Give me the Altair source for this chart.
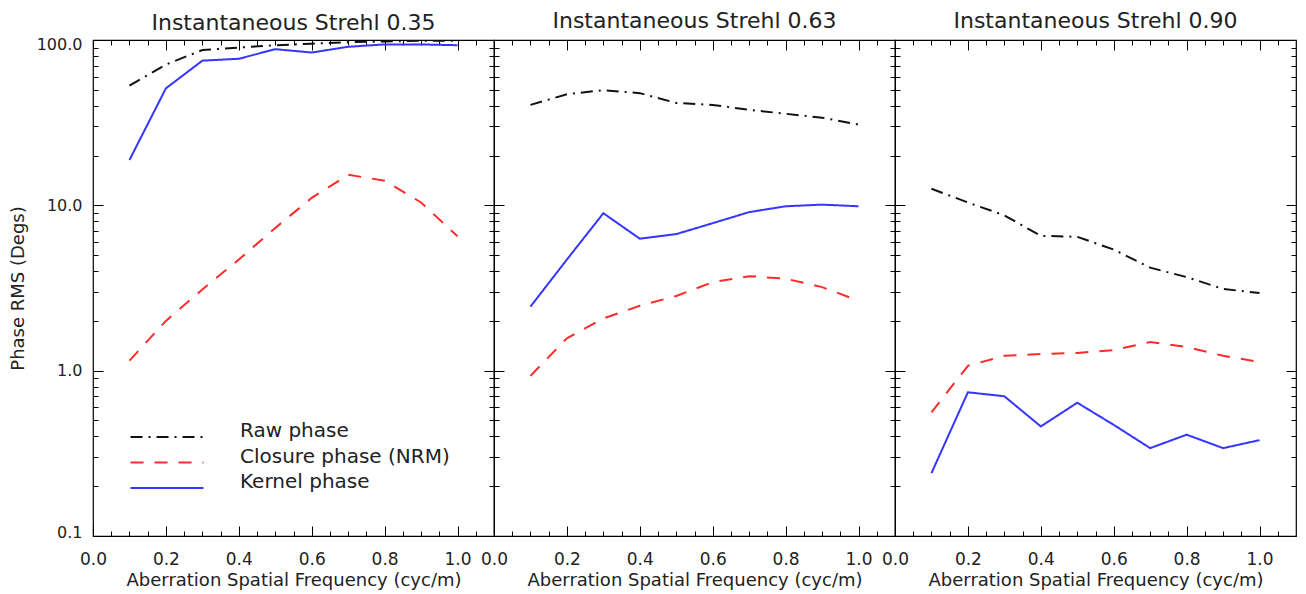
import altair as alt
import pandas as pd

FONT = "DejaVu Sans"
TEXT = "#222222"

# ---------------- data ----------------
freq = [0.1, 0.2, 0.3, 0.4, 0.5, 0.6, 0.7, 0.8, 0.9, 1.0]
series_names = ["Raw phase", "Closure phase (NRM)", "Kernel phase"]
series_colors = ["#111111", "#ff2b2b", "#3535ff"]
series_dashes = [[12, 6, 2, 6], [13, 11], [1, 0]]
panel_titles = ["Instantaneous Strehl 0.35", "Instantaneous Strehl 0.63", "Instantaneous Strehl 0.90"]

raw_035 = [53, 71, 87, 90, 93, 95, 97, 98, 99, 99]
closure_035 = [1.15, 2.0, 3.1, 4.7, 7.3, 11.1, 15.3, 14.1, 10.4, 6.5]
kernel_035 = [18.8, 51, 75, 77, 88, 84, 91, 94, 94, 93]

raw_063 = [40.5, 47, 49.7, 47.7, 41.6, 40.5, 37.8, 35.8, 33.9, 30.8]
closure_063 = [0.93, 1.57, 2.07, 2.47, 2.83, 3.43, 3.73, 3.6, 3.2, 2.65]
kernel_063 = [2.44, 4.7, 8.96, 6.28, 6.7, 7.8, 9.1, 9.87, 10.1, 9.87]

raw_090 = [12.6, 10.4, 8.7, 6.54, 6.45, 5.4, 4.2, 3.68, 3.12, 2.95]
closure_090 = [0.56, 1.07, 1.23, 1.26, 1.28, 1.33, 1.49, 1.39, 1.23, 1.13]
kernel_090 = [0.24, 0.74, 0.70, 0.46, 0.64, 0.47, 0.34, 0.41, 0.34, 0.38]

x_major = [0.0, 0.2, 0.4, 0.6, 0.8, 1.0]
x_minor = [0.05, 0.1, 0.15, 0.25, 0.3, 0.35, 0.45, 0.5, 0.55, 0.65, 0.7, 0.75,
           0.85, 0.9, 0.95, 1.05]
y_major = [0.1, 1.0, 10.0, 100.0]
y_minor = [0.2, 0.3, 0.4, 0.5, 0.6, 0.7, 0.8, 0.9,
           2.0, 3.0, 4.0, 5.0, 6.0, 7.0, 8.0, 9.0,
           20.0, 30.0, 40.0, 50.0, 60.0, 70.0, 80.0, 90.0]

W, H = 401, 496


def make_df(raw, closure, kernel):
    rows = []
    for name, vals in zip(series_names, [raw, closure, kernel]):
        for f, v in zip(freq, vals):
            rows.append({"freq": f, "value": v, "series": name})
    return pd.DataFrame(rows)


panel_data = [
    make_df(raw_035, closure_035, kernel_035),
    make_df(raw_063, closure_063, kernel_063),
    make_df(raw_090, closure_090, kernel_090),
]


def xs():
    return alt.Scale(domain=[0, 1.1], nice=False, zero=False)


def ys():
    return alt.Scale(type="log", domain=[0.1, 100], nice=False)


def tick_axis(orient, offset, values, size):
    return alt.Axis(orient=orient, offset=offset, values=values, tickSize=size,
                    tickColor="black", tickWidth=1, ticks=True, labels=False,
                    domain=False, grid=False, title=None, minExtent=0, maxExtent=0)


def panel(idx, df):
    first = idx == 0
    x_axis = alt.Axis(orient="bottom", values=x_major, format=".1f", ticks=False,
                      domain=False, grid=False, labelFlush=False, labelPadding=15,
                      labelFont=FONT, labelFontSize=17, labelColor=TEXT,
                      title="Aberration Spatial Frequency (cyc/m)", titleFont=FONT,
                      titleFontSize=18, titleFontWeight="normal", titleColor=TEXT,
                      titlePadding=4)
    if first:
        y_axis = alt.Axis(orient="left", values=y_major, format=".1f", ticks=False,
                          domain=False, grid=False, labelPadding=11, labelFont=FONT,
                          labelFontSize=16, labelColor=TEXT, labelFlush=True,
                          labelFlushOffset=4, title="Phase RMS (Degs)",
                          titleFont=FONT, titleFontSize=18, titleFontWeight="normal",
                          titleColor=TEXT, titlePadding=9, minExtent=55)
        legend = alt.Legend(orient="none", legendX=64, legendY=387, title=None,
                            symbolType="M-5,0H5", symbolSize=213, symbolStrokeWidth=2,
                            labelFont=FONT, labelFontSize=20, labelColor=TEXT,
                            labelOffset=63, labelBaseline="alphabetic", rowPadding=5.5,
                            labelLimit=500, padding=0)
        title_offset = 1.5
    else:
        y_axis = None
        legend = None
        title_offset = 6.5

    lines = alt.Chart(df).mark_line(strokeWidth=2, clip=True).encode(
        x=alt.X("freq:Q", scale=xs(), axis=x_axis),
        y=alt.Y("value:Q", scale=ys(), axis=y_axis),
        color=alt.Color("series:N", scale=alt.Scale(domain=series_names, range=series_colors),
                        legend=legend),
        strokeDash=alt.StrokeDash("series:N",
                                  scale=alt.Scale(domain=series_names, range=series_dashes),
                                  legend=legend),
    )
    layers = [lines]
    for orient, values, size in [("top", x_major, 10), ("top", x_minor, 5),
                                 ("bottom", x_major, 10), ("bottom", x_minor, 5)]:
        layers.append(alt.Chart(df).mark_point(opacity=0, clip=True).encode(
            x=alt.X("freq:Q", scale=xs(), axis=tick_axis(orient, -H, values, size)),
            y=alt.Y("value:Q", scale=ys(), axis=None)))
    for orient, values, size in [("right", y_major, 10), ("right", y_minor, 5),
                                 ("left", y_major, 10), ("left", y_minor, 5)]:
        layers.append(alt.Chart(df).mark_point(opacity=0, clip=True).encode(
            x=alt.X("freq:Q", scale=xs(), axis=None),
            y=alt.Y("value:Q", scale=ys(), axis=tick_axis(orient, -W, values, size))))

    return alt.layer(*layers).resolve_axis(x="independent", y="independent").properties(
        width=W, height=H,
        title=alt.Title(panel_titles[idx], font=FONT, fontSize=22, fontWeight="normal",
                        color=TEXT, anchor="middle", frame="group", offset=title_offset))


chart = alt.hconcat(*[panel(i, d) for i, d in enumerate(panel_data)], spacing=0,
                    bounds="flush").resolve_scale(
    color="independent", strokeDash="independent"
).properties(padding={"top": 1, "left": 0, "right": 0, "bottom": 0}).configure_view(
    stroke="black", strokeWidth=1.2)

chart.save("out.html", embed_options={"renderer": "svg", "actions": False})
